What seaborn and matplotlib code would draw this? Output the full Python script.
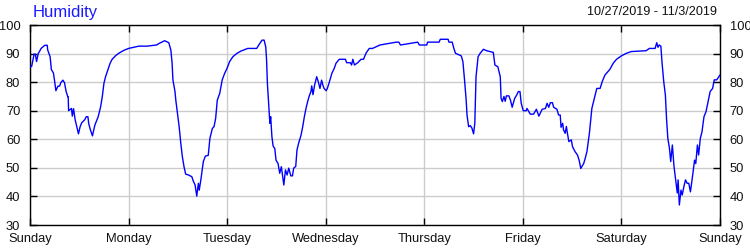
import matplotlib
matplotlib.use("Agg")
import matplotlib.pyplot as plt
import seaborn as sns
import pandas as pd

# ---- data (hours since Sunday 10/27/2019 00:00, relative humidity %) ----
hours = [
    0.0, 0.4, 1.0, 1.3, 1.6, 2.0, 2.3, 2.7, 3.6, 4.2, 4.3, 4.9, 5.2, 5.7, 6.0, 6.3,
    6.8, 7.2, 7.5, 8.0, 8.4, 8.8, 9.2, 9.3, 9.4, 10.1, 10.3, 10.6, 11.0, 11.4, 11.8,
    12.2, 12.6, 13.3, 13.7, 14.1, 14.3, 14.6, 15.2, 15.8, 16.6, 17.2, 17.6, 18.0,
    18.4, 19.0, 19.5, 20.0, 20.8, 21.6, 22.8, 24.0, 26.5, 28.5, 30.8, 31.5, 32.8,
    33.8, 34.3, 34.6, 34.8, 35.3, 35.5, 35.9, 36.3, 36.7, 37.1, 37.5, 37.9, 38.6,
    39.4, 39.8, 40.2, 40.6, 41.0, 41.2, 41.6, 42.2, 42.7, 43.4, 43.8, 44.4, 44.8,
    45.2, 45.6, 46.2, 46.8, 47.4, 48.0, 48.6, 49.4, 50.4, 51.4, 53.0, 55.2, 55.7,
    56.5, 57.0, 57.4, 57.6, 57.8, 58.2, 58.4, 58.6, 58.9, 59.2, 59.6, 59.9, 60.4,
    60.8, 61.2, 61.8, 62.2, 62.6, 63.0, 63.5, 63.9, 64.2, 64.7, 65.0, 65.4, 66.0,
    66.4, 66.8, 67.2, 67.6, 68.0, 68.4, 68.6, 68.9, 69.3, 69.8, 70.2, 70.6, 71.0,
    71.3, 71.6, 72.1, 72.4, 72.9, 73.5, 74.1, 74.5, 75.3, 76.8, 77.1, 78.0, 78.3,
    78.6, 79.0, 79.8, 80.6, 81.2, 81.8, 82.6, 83.4, 85.2, 89.2, 89.8, 90.2, 94.4,
    94.8, 96.6, 96.8, 99.6, 99.9, 101.8, 102.0, 102.8, 103.2, 103.6, 105.0, 105.4,
    105.8, 106.2, 106.4, 106.8, 107.2, 107.6, 108.0, 108.3, 108.6, 109.1, 109.6,
    110.4, 111.2, 112.8, 113.2, 113.9, 114.5, 114.7, 115.0, 115.4, 115.7, 116.0,
    116.6, 117.0, 117.4, 118.0, 118.5, 118.9, 119.3, 119.6, 120.1, 120.8, 121.0,
    121.8, 122.6, 123.3, 123.9, 124.7, 125.5, 125.9, 126.3, 126.7, 127.2, 127.5,
    128.3, 128.7, 129.1, 129.3, 129.7, 129.9, 130.3, 130.6, 130.8, 131.2, 131.8,
    132.1, 132.7, 133.3, 133.7, 134.1, 134.8, 135.1, 135.6, 136.2, 136.8, 137.4,
    138.0, 138.8, 139.4, 140.0, 140.6, 141.2, 142.0, 142.8, 144.0, 145.2, 146.4,
    150.0, 150.8, 152.2, 152.6, 152.9, 153.2, 153.6, 153.9, 154.3, 154.7, 155.0,
    155.3, 155.7, 156.0, 156.4, 156.8, 157.2, 157.6, 157.8, 158.1, 158.5, 158.8,
    159.2, 159.6, 160.0, 160.4, 160.8, 161.3, 161.8, 162.1, 162.5, 162.8, 163.2,
    163.6, 164.1, 164.6, 165.1, 165.6, 166.2, 166.6, 167.2, 168.0,
]
humidity = [
    85.4, 85.5, 89.8, 89.8, 87.2, 90.0, 90.7, 91.8, 92.9, 92.9, 91.3, 88.9, 84.4,
    83.2, 80.3, 77.0, 78.6, 78.6, 79.8, 80.7, 79.8, 76.7, 74.9, 74.9, 70.0, 70.8,
    68.1, 70.7, 66.8, 64.4, 61.9, 64.4, 65.8, 66.8, 67.9, 67.9, 65.5, 63.8, 61.2,
    65.0, 67.9, 71.4, 74.9, 79.6, 81.9, 84.4, 86.6, 88.0, 89.2, 90.1, 91.1, 91.8,
    92.6, 92.6, 93.0, 93.6, 94.5, 93.8, 91.2, 86.6, 80.8, 76.7, 73.7, 69.1, 64.6,
    58.8, 53.9, 50.4, 47.8, 47.5, 46.9, 45.2, 44.0, 40.1, 44.6, 42.2, 45.8, 52.2,
    54.1, 54.4, 60.3, 63.8, 64.4, 67.3, 73.7, 76.1, 80.8, 83.1, 84.9, 87.2, 88.9,
    90.1, 90.9, 91.8, 91.8, 93.0, 94.7, 94.7, 92.3, 87.8, 79.6, 70.2, 65.6, 67.9,
    60.9, 57.6, 56.8, 52.7, 51.5, 48.1, 50.4, 44.0, 49.3, 47.5, 49.9, 47.2, 47.2,
    49.9, 50.5, 56.2, 58.6, 61.5, 64.4, 67.9, 70.8, 73.2, 75.2, 76.7, 78.7, 75.6,
    79.0, 81.9, 80.1, 77.8, 80.7, 79.0, 77.8, 77.0, 77.8, 80.1, 83.1, 84.9, 86.6,
    88.0, 88.0, 86.8, 86.8, 86.0, 88.0, 86.0, 86.8, 88.0, 88.0, 90.1, 91.8, 91.8,
    93.0, 94.0, 94.0, 93.0, 94.0, 93.0, 93.0, 94.0, 94.0, 95.0, 95.0, 94.0, 94.0,
    91.8, 90.1, 89.2, 87.2, 80.8, 73.7, 68.5, 64.4, 64.8, 63.9, 61.9, 65.6, 81.9,
    88.9, 90.1, 91.5, 91.0, 90.4, 86.0, 85.4, 81.9, 74.3, 73.2, 75.0, 73.3, 75.2,
    75.2, 73.6, 71.2, 74.3, 75.5, 76.7, 76.7, 72.6, 70.0, 70.0, 70.8, 68.8, 68.8,
    70.5, 68.1, 70.5, 70.8, 72.6, 71.2, 72.8, 72.8, 71.2, 70.5, 68.5, 68.5, 64.2,
    65.6, 63.3, 62.1, 64.5, 62.5, 59.2, 59.8, 57.4, 55.7, 54.5, 52.7, 49.8, 51.5,
    52.9, 55.7, 62.1, 70.8, 74.3, 77.8, 77.8, 80.5, 82.5, 83.5, 84.5, 86.6, 88.0,
    89.2, 90.1, 90.7, 91.0, 91.8, 91.8, 93.8, 92.2, 93.0, 92.6, 86.6, 80.2, 75.5,
    66.8, 60.3, 56.8, 52.2, 58.0, 50.5, 45.8, 41.2, 45.8, 37.0, 42.2, 40.5, 43.4,
    45.8, 44.6, 44.6, 41.6, 46.9, 52.7, 51.5, 58.0, 54.5, 60.3, 62.5, 67.9, 69.7,
    73.2, 76.7, 77.8, 80.8, 80.8, 82.5,
]
day_labels = ["Sunday", "Monday", "Tuesday", "Wednesday", "Thursday", "Friday",
              "Saturday", "Sunday"]
y_ticks = [30, 40, 50, 60, 70, 80, 90, 100]
title = "Humidity"
date_range = "10/27/2019 - 11/3/2019"

# ---- styling ----
sns.set_theme(style="white")
plt.rcParams["font.family"] = ["Liberation Sans", "DejaVu Sans"]

df = pd.DataFrame({"hour": hours, "humidity": humidity})

fig = plt.figure(figsize=(7.5, 2.5), dpi=100)
ax = fig.add_axes([30 / 750, 25 / 250, 690 / 750, 200 / 250])

sns.lineplot(data=df, x="hour", y="humidity", ax=ax, color="#0000ff",
             linewidth=1.0, zorder=3)

ax.set_xlim(0, 168)
ax.set_ylim(30, 100)
ax.set_xticks([24 * i for i in range(len(day_labels))])
ax.set_xticklabels(day_labels)
ax.set_yticks(y_ticks)
ax.set_yticklabels([str(v) for v in y_ticks])
ax.set_xlabel("")
ax.set_ylabel("")

ax.grid(True, color="#cccccc", linewidth=1.0, zorder=0)
ax.set_axisbelow(True)
for s in ax.spines.values():
    s.set_color("black")
    s.set_linewidth(1.0)
    s.set_visible(True)

ax.tick_params(axis="x", direction="in", length=5, width=1, color="black",
               top=True, bottom=True, labelsize=9.3, pad=6, labelcolor="#111111")
ax.tick_params(axis="y", direction="in", length=5, width=1, color="black",
               left=True, right=True, labelleft=True, labelright=True,
               labelsize=9.3, pad=7, labelcolor="#111111")

fig.text(33 / 750, 1 - 12 / 250, title, color="#1a1aff", fontsize=12,
         ha="left", va="center")
fig.text(717 / 750, 1 - 12 / 250, date_range, color="#111111", fontsize=9.1,
         ha="right", va="center")

fig.savefig("out.png", dpi=100)
